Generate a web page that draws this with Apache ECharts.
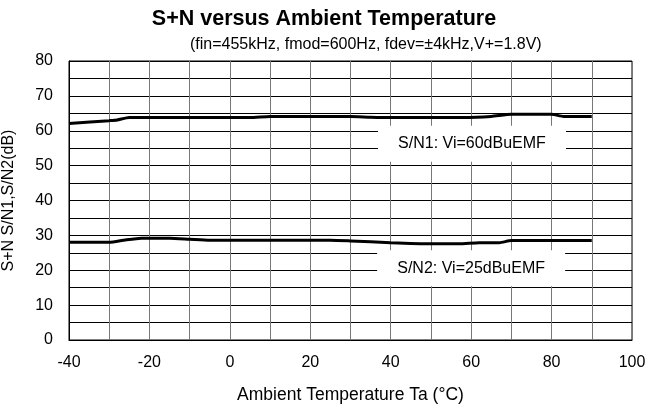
<!DOCTYPE html>
<html><head><meta charset="utf-8">
<script src="https://cdn.jsdelivr.net/npm/echarts@6/dist/echarts.min.js"></script>
<style>html,body{margin:0;padding:0;background:#fff}#c{width:648px;height:408px}</style>
</head><body><div id="c"></div>
<script>
const titleText = 'S+N versus Ambient Temperature';
const subtitleText = '(fin=455kHz, fmod=600Hz, fdev=±4kHz,V+=1.8V)';
const xName = 'Ambient Temperature Ta (°C)';
const yName = 'S+N S/N1,S/N2(dB)';
const sn1Temps = [-40, -30, -28, -25, -10, 5, 10, 30, 35, 40, 58, 65, 70, 80, 83, 90];
const sn1Values = [62.1, 62.9, 63.1, 63.8, 63.8, 63.8, 64.1, 64.1, 63.9, 63.8, 63.8, 64.1, 64.7, 64.7, 64.1, 64.1];
const sn2Temps = [-40, -30, -26, -22, -15, -10, -5, 25, 30, 40, 50, 57, 62, 67, 70, 90];
const sn2Values = [28.0, 28.0, 28.7, 29.2, 29.2, 28.9, 28.6, 28.6, 28.4, 27.9, 27.6, 27.6, 27.9, 27.9, 28.5, 28.5];
const sn1Label = 'S/N1: Vi=60dBuEMF';
const sn1LabelAt = [60.2, 56.3];
const sn2Label = 'S/N2: Vi=25dBuEMF';
const sn2LabelAt = [60, 20.6];

const font = 'Liberation Sans, Arial, sans-serif';
function pairs(xs, ys){ return xs.map((x,i)=>[x, ys[i]]); }
function labelPoint(text, at){
  return {
    silent: true,
    data: [{
      coord: at, symbol: 'rect', symbolSize: [188, 36],
      itemStyle: {color: '#fff'},
      label: {show: true, position: 'inside', formatter: text, color: '#000', fontSize: 16, fontFamily: font}
    }]
  };
}
const chart = echarts.init(document.getElementById('c'), null, {renderer: 'canvas'});
chart.setOption({
  animation: false,
  backgroundColor: '#fff',
  title: [
    {text: titleText, left: 'center', top: 3, textStyle: {fontSize: 21.5, fontWeight: 'bold', fontFamily: font, color: '#000'}},
    {text: subtitleText, left: 185, top: 32, textStyle: {fontSize: 16, fontWeight: 'normal', fontFamily: font, color: '#000'}}
  ],
  grid: {left: 69, right: 16, top: 61, bottom: 68, containLabel: false, outerBoundsMode: 'none',
    show: true, borderColor: '#000', borderWidth: 1},
  xAxis: {
    type: 'value', min: -40, max: 100, interval: 10,
    name: xName, nameLocation: 'middle', nameGap: 46,
    nameTextStyle: {fontSize: 17.5, fontFamily: font, color: '#000'},
    axisLine: {show: true, onZero: false, lineStyle: {color: '#000', width: 1}},
    axisTick: {show: false},
    axisLabel: {fontSize: 16, fontFamily: font, color: '#000', margin: 15,
      formatter: v => (v % 20 === 0 ? String(v) : '')},
    splitLine: {show: true, lineStyle: {color: '#777', width: 1}}
  },
  yAxis: {
    type: 'value', min: 0, max: 80, interval: 5,
    name: yName, nameLocation: 'middle', nameGap: 52,
    nameTextStyle: {fontSize: 16, fontFamily: font, color: '#000'},
    axisLine: {show: true, onZero: false, lineStyle: {color: '#000', width: 1}},
    axisTick: {show: false},
    axisLabel: {fontSize: 16, fontFamily: font, color: '#000', margin: 16,
      formatter: v => (v % 10 === 0 ? String(v) : '')},
    splitLine: {show: true, lineStyle: {color: '#000', width: 1}}
  },
  series: [
    {type: 'line', data: pairs(sn1Temps, sn1Values), showSymbol: false, smooth: 0.2,
      lineStyle: {color: '#000', width: 3}, z: 3, markPoint: labelPoint(sn1Label, sn1LabelAt)},
    {type: 'line', data: pairs(sn2Temps, sn2Values), showSymbol: false, smooth: 0.2,
      lineStyle: {color: '#000', width: 3}, z: 3, markPoint: labelPoint(sn2Label, sn2LabelAt)}
  ]
});
</script></body></html>
